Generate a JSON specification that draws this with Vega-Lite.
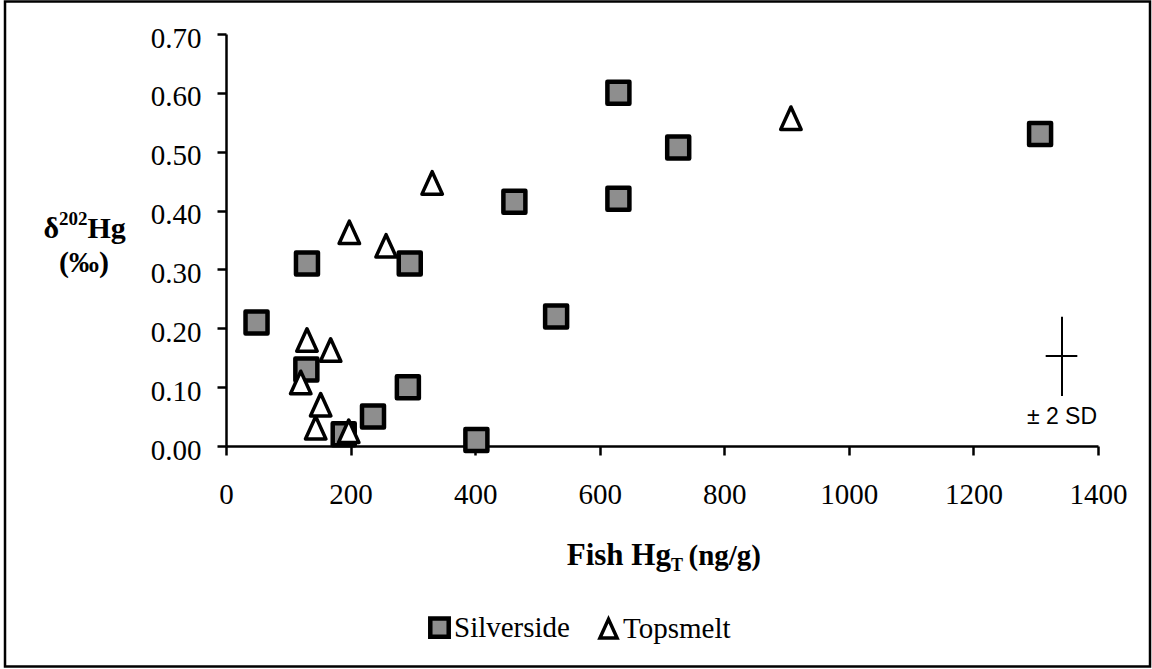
{
  "$schema": "https://vega.github.io/schema/vega-lite/v6.json",
  "width": 872,
  "height": 412,
  "autosize": {"type": "none"},
  "padding": {"left": 226, "top": 34, "right": 54, "bottom": 223},
  "background": "white",
  "config": {
    "view": {"stroke": null},
    "font": "Liberation Serif"
  },
  "layer": [
    {
      "data": {
        "values": [
          {"species": "Silverside", "hg": 49, "d202": 0.21},
          {"species": "Silverside", "hg": 130, "d202": 0.31},
          {"species": "Silverside", "hg": 129, "d202": 0.13},
          {"species": "Silverside", "hg": 189, "d202": 0.02},
          {"species": "Silverside", "hg": 236, "d202": 0.05},
          {"species": "Silverside", "hg": 292, "d202": 0.10},
          {"species": "Silverside", "hg": 295, "d202": 0.31},
          {"species": "Silverside", "hg": 402, "d202": 0.01},
          {"species": "Silverside", "hg": 463, "d202": 0.415},
          {"species": "Silverside", "hg": 530, "d202": 0.22},
          {"species": "Silverside", "hg": 630, "d202": 0.60},
          {"species": "Silverside", "hg": 630, "d202": 0.42},
          {"species": "Silverside", "hg": 726, "d202": 0.507},
          {"species": "Silverside", "hg": 1307, "d202": 0.53},
          {"species": "Topsmelt", "hg": 120, "d202": 0.108},
          {"species": "Topsmelt", "hg": 130, "d202": 0.18},
          {"species": "Topsmelt", "hg": 144, "d202": 0.031},
          {"species": "Topsmelt", "hg": 152, "d202": 0.07},
          {"species": "Topsmelt", "hg": 168, "d202": 0.163},
          {"species": "Topsmelt", "hg": 197, "d202": 0.025},
          {"species": "Topsmelt", "hg": 198, "d202": 0.363},
          {"species": "Topsmelt", "hg": 257, "d202": 0.34},
          {"species": "Topsmelt", "hg": 331, "d202": 0.447},
          {"species": "Topsmelt", "hg": 907, "d202": 0.557}
        ]
      },
      "mark": {"type": "point", "filled": true, "stroke": "black", "opacity": 1, "strokeJoin": "round"},
      "encoding": {
        "x": {
          "field": "hg", "type": "quantitative",
          "scale": {"domain": [0, 1400], "nice": false, "zero": false},
          "axis": {
            "title": null, "values": [0, 200, 400, 600, 800, 1000, 1200, 1400], "format": "d",
            "grid": false, "domainColor": "black", "domainWidth": 2.5, "tickColor": "black", "tickWidth": 2.5, "tickSize": 9,
            "labelFont": "Liberation Serif", "labelFontSize": 29, "labelColor": "black", "labelFlush": false, "labelOverlap": false,
            "labelBaseline": "alphabetic", "labelPadding": 48
          }
        },
        "y": {
          "field": "d202", "type": "quantitative",
          "scale": {"domain": [0, 0.7], "nice": false, "zero": false},
          "axis": {
            "title": null, "values": [0, 0.1, 0.2, 0.3, 0.4, 0.5, 0.6, 0.7], "format": ".2f",
            "grid": false, "domainColor": "black", "domainWidth": 2.5, "tickColor": "black", "tickWidth": 2.5, "tickSize": 9,
            "labelFont": "Liberation Serif", "labelFontSize": 29, "labelColor": "black", "labelFlush": false, "labelOverlap": false,
            "labelBaseline": "alphabetic", "labelOffset": 13, "labelPadding": 16
          }
        },
        "shape": {
          "field": "species", "type": "nominal",
          "scale": {"domain": ["Silverside", "Topsmelt"], "range": ["square", "M0,-1.02L0.93,1.02L-0.93,1.02Z"]},
          "legend": {
            "orient": "none", "legendX": 199, "legendY": 579, "direction": "horizontal", "title": null,
            "labelFont": "Liberation Serif", "labelFontSize": 29, "labelColor": "black",
            "symbolSize": 340, "symbolStrokeWidth": 3.8, "symbolOpacity": 1,
            "labelOffset": 0, "columnPadding": 22
          }
        },
        "fill": {
          "field": "species", "type": "nominal",
          "scale": {"domain": ["Silverside", "Topsmelt"], "range": ["#8e8e8e", "#ffffff"]},
          "legend": {
            "orient": "none", "legendX": 199, "legendY": 579, "direction": "horizontal", "title": null,
            "labelFont": "Liberation Serif", "labelFontSize": 29, "labelColor": "black",
            "symbolSize": 340, "symbolStrokeWidth": 3.8, "symbolOpacity": 1,
            "labelOffset": 0, "columnPadding": 22
          }
        },
        "strokeWidth": {
          "field": "species", "type": "nominal",
          "scale": {"domain": ["Silverside", "Topsmelt"], "range": [4.5, 3.5]},
          "legend": null
        },
        "size": {"value": 484}
      }
    },
    {
      "data": {"values": [{}]},
      "mark": {"type": "rect", "fill": null, "stroke": "black", "strokeWidth": 2.5},
      "encoding": {
        "x": {"datum": -354.8, "type": "quantitative", "title": null},
        "x2": {"datum": 1483.5},
        "y": {"datum": 0.7552, "type": "quantitative", "title": null},
        "y2": {"datum": -0.3746}
      }
    },
    {
      "data": {"values": [{}]},
      "mark": {"type": "rule", "stroke": "black", "strokeWidth": 2},
      "encoding": {
        "x": {"datum": 1342.2, "type": "quantitative", "title": null},
        "y": {"datum": 0.0849, "type": "quantitative", "title": null},
        "y2": {"datum": 0.2196}
      }
    },
    {
      "data": {"values": [{}]},
      "mark": {"type": "rule", "stroke": "black", "strokeWidth": 2},
      "encoding": {
        "x": {"datum": 1316, "type": "quantitative", "title": null},
        "x2": {"datum": 1366.8},
        "y": {"datum": 0.153, "type": "quantitative", "title": null}
      }
    },
    {
      "data": {"values": [{}]},
      "mark": {"type": "text", "font": "Liberation Sans", "fontSize": 23, "align": "center", "baseline": "alphabetic", "color": "black"},
      "encoding": {
        "x": {"datum": 1342.2, "type": "quantitative", "title": null},
        "y": {"datum": 0.0374, "type": "quantitative", "title": null},
        "text": {"value": "± 2 SD"}
      }
    },
    {
      "data": {"values": [{}]},
      "mark": {"type": "text", "font": "Liberation Serif", "fontSize": 31, "fontWeight": "bold", "align": "right", "baseline": "alphabetic", "color": "black"},
      "encoding": {
        "x": {"datum": 714.4, "type": "quantitative", "title": null},
        "y": {"datum": -0.2022, "type": "quantitative", "title": null},
        "text": {"value": "Fish Hg"}
      }
    },
    {
      "data": {"values": [{}]},
      "mark": {"type": "text", "font": "Liberation Serif", "fontSize": 18, "fontWeight": "bold", "align": "left", "baseline": "alphabetic", "dy": 6, "color": "black"},
      "encoding": {
        "x": {"datum": 714.4, "type": "quantitative", "title": null},
        "y": {"datum": -0.2022, "type": "quantitative", "title": null},
        "text": {"value": "T"}
      }
    },
    {
      "data": {"values": [{}]},
      "mark": {"type": "text", "font": "Liberation Serif", "fontSize": 29, "fontWeight": "bold", "align": "left", "baseline": "alphabetic", "color": "black"},
      "encoding": {
        "x": {"datum": 742.5, "type": "quantitative", "title": null},
        "y": {"datum": -0.2022, "type": "quantitative", "title": null},
        "text": {"value": "(ng/g)"}
      }
    },
    {
      "data": {"values": [{}]},
      "mark": {"type": "text", "font": "Liberation Serif", "fontSize": 30, "fontWeight": "bold", "align": "right", "baseline": "alphabetic", "color": "black"},
      "encoding": {
        "x": {"datum": -268.1, "type": "quantitative", "title": null},
        "y": {"datum": 0.3534, "type": "quantitative", "title": null},
        "text": {"value": "δ"}
      }
    },
    {
      "data": {"values": [{}]},
      "mark": {"type": "text", "font": "Liberation Serif", "fontSize": 19, "fontWeight": "bold", "align": "left", "baseline": "alphabetic", "dy": -13, "color": "black"},
      "encoding": {
        "x": {"datum": -268.1, "type": "quantitative", "title": null},
        "y": {"datum": 0.3534, "type": "quantitative", "title": null},
        "text": {"value": "202"}
      }
    },
    {
      "data": {"values": [{}]},
      "mark": {"type": "text", "font": "Liberation Serif", "fontSize": 30, "fontWeight": "bold", "align": "left", "baseline": "alphabetic", "color": "black"},
      "encoding": {
        "x": {"datum": -222.4, "type": "quantitative", "title": null},
        "y": {"datum": 0.3534, "type": "quantitative", "title": null},
        "text": {"value": "Hg"}
      }
    },
    {
      "data": {"values": [{}]},
      "mark": {"type": "text", "font": "Liberation Serif", "fontSize": 30, "fontWeight": "bold", "align": "center", "baseline": "alphabetic", "color": "black"},
      "encoding": {
        "x": {"datum": -228.0, "type": "quantitative", "title": null},
        "y": {"datum": 0.2956, "type": "quantitative", "title": null},
        "text": {"value": "(‰)"}
      }
    }
  ]
}
